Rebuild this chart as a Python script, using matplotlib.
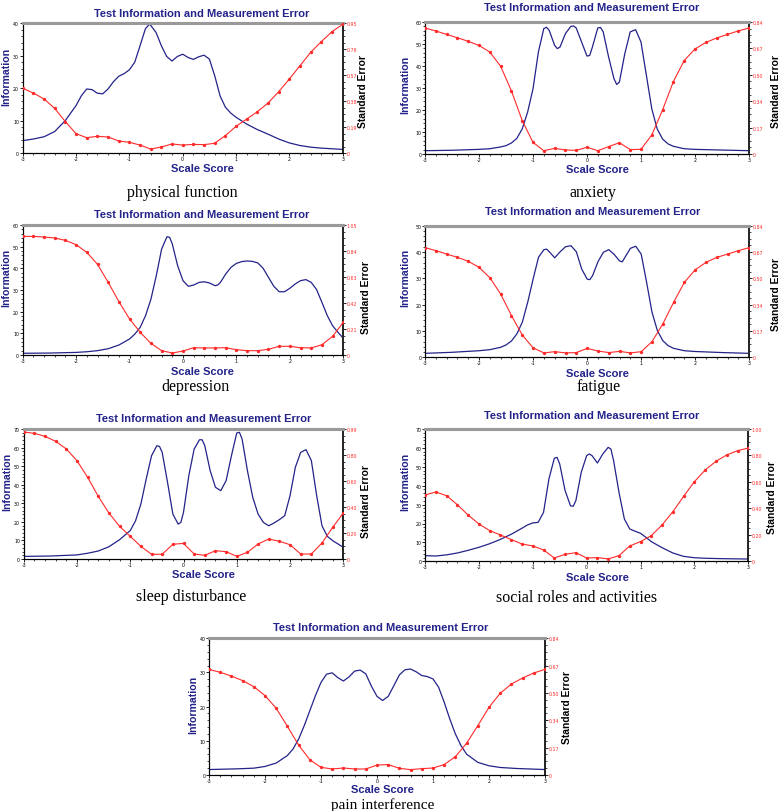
import matplotlib
matplotlib.use("Agg")
import matplotlib.pyplot as plt
from matplotlib.ticker import MultipleLocator, AutoMinorLocator

# ---------------- data ----------------
se_x = [-3.0, -2.8, -2.6, -2.4, -2.2, -2.0, -1.8, -1.6, -1.4, -1.2, -1.0, -0.8, -0.6, -0.4, -0.2,
        0.0, 0.2, 0.4, 0.6, 0.8, 1.0, 1.2, 1.4, 1.6, 1.8, 2.0, 2.2, 2.4, 2.6, 2.8, 3.0]

# physical function
pf_info_x = [-3, -2.8, -2.6, -2.4, -2.2, -2.0, -1.9, -1.8, -1.7, -1.6, -1.5, -1.4, -1.3, -1.2, -1.1, -1.0,
             -0.9, -0.8, -0.7, -0.62, -0.5, -0.4, -0.3, -0.2, -0.1, 0.0, 0.1, 0.2, 0.3, 0.4, 0.5, 0.6,
             0.7, 0.8, 0.9, 1.0, 1.2, 1.4, 1.6, 1.8, 2.0, 2.2, 2.4, 2.6, 2.8, 3.0]
pf_info = [3.8, 4.3, 5.0, 6.6, 10.0, 14.6, 17.6, 19.7, 19.5, 18.4, 18.2, 19.7, 21.9, 23.6, 24.4, 25.6,
           27.9, 33.0, 38.2, 39.7, 37.1, 33.0, 29.7, 28.3, 29.7, 30.4, 29.4, 28.8, 29.6, 30.1, 28.9, 23.8,
           17.6, 14.1, 12.3, 11.0, 8.9, 7.2, 5.8, 4.3, 3.1, 2.3, 1.8, 1.5, 1.3, 1.1]
pf_se = [0.473, 0.438, 0.395, 0.326, 0.229, 0.141, 0.112, 0.122, 0.117, 0.088, 0.078, 0.058, 0.029, 0.044,
         0.066, 0.058, 0.063, 0.061, 0.071, 0.127, 0.195, 0.248, 0.302, 0.365, 0.448, 0.541, 0.638, 0.736,
         0.814, 0.887, 0.940]

# anxiety
ax_info_x = [-3, -2.5, -2.0, -1.8, -1.6, -1.5, -1.4, -1.3, -1.2, -1.1, -1.0, -0.9, -0.8, -0.75, -0.7, -0.6,
             -0.55, -0.5, -0.4, -0.3, -0.25, -0.2, -0.1, 0.0, 0.05, 0.1, 0.2, 0.25, 0.3, 0.4, 0.5, 0.55,
             0.6, 0.7, 0.8, 0.9, 1.0, 1.1, 1.2, 1.3, 1.4, 1.5, 1.6, 1.8, 2.0, 2.5, 3.0]
ax_info = [1.5, 1.7, 2.1, 2.4, 3.2, 3.8, 5.0, 7.1, 11.4, 19.0, 29.6, 46.4, 57.0, 57.6, 56.2, 49.4,
           47.9, 48.6, 54.7, 58.0, 58.2, 57.3, 50.9, 44.5, 44.8, 48.6, 57.3, 57.5, 55.5, 44.1, 34.2, 31.6,
           32.7, 45.6, 55.5, 56.5, 50.9, 35.7, 20.5, 11.4, 6.8, 4.6, 3.5, 2.4, 2.1, 1.8, 1.5]
ax_se = [0.802, 0.783, 0.761, 0.740, 0.717, 0.691, 0.649, 0.559, 0.402, 0.213, 0.074, 0.021, 0.036, 0.026,
         0.023, 0.043, 0.021, 0.047, 0.072, 0.028, 0.030, 0.121, 0.281, 0.461, 0.595, 0.668, 0.710, 0.738,
         0.761, 0.783, 0.802]

# depression
dp_info_x = [-3, -2.5, -2.0, -1.8, -1.6, -1.4, -1.2, -1.0, -0.9, -0.8, -0.7, -0.6, -0.5, -0.4, -0.3, -0.25,
             -0.2, -0.1, 0.0, 0.1, 0.2, 0.3, 0.4, 0.5, 0.6, 0.65, 0.7, 0.8, 0.9, 1.0, 1.1, 1.2, 1.3, 1.4,
             1.5, 1.6, 1.7, 1.8, 1.9, 2.0, 2.1, 2.2, 2.3, 2.4, 2.5, 2.6, 2.7, 2.8, 2.9, 3.0]
dp_info = [0.8, 0.9, 1.2, 1.5, 2.0, 2.9, 4.6, 7.4, 9.7, 12.8, 18.2, 25.8, 36.6, 48.9, 54.6, 54.3,
           51.2, 41.2, 34.3, 31.7, 32.3, 33.5, 33.8, 33.2, 32.0, 32.3, 33.5, 37.4, 40.5, 42.3, 43.1, 43.4, 43.2, 42.5,
           40.0, 35.8, 31.7, 29.2, 29.2, 30.8, 32.8, 34.3, 34.8, 33.5, 30.2, 24.3, 18.2, 13.5, 10.5, 7.7]
dp_se = [0.958, 0.958, 0.953, 0.945, 0.926, 0.891, 0.829, 0.732, 0.587, 0.431, 0.291, 0.183, 0.094, 0.035,
         0.016, 0.032, 0.059, 0.057, 0.057, 0.059, 0.043, 0.035, 0.035, 0.046, 0.070, 0.070, 0.059, 0.057,
         0.083, 0.151, 0.264]

# fatigue
fa_info_x = [-3, -2.5, -2.0, -1.8, -1.6, -1.5, -1.4, -1.3, -1.2, -1.1, -1.0, -0.9, -0.8, -0.75, -0.7, -0.6,
             -0.5, -0.4, -0.3, -0.2, -0.1, 0.0, 0.05, 0.1, 0.2, 0.3, 0.4, 0.5, 0.6, 0.65, 0.7, 0.8, 0.9,
             1.0, 1.1, 1.2, 1.3, 1.4, 1.5, 1.6, 1.8, 2.0, 2.5, 3.0]
fa_info = [1.5, 1.9, 2.5, 2.9, 3.8, 4.7, 6.2, 8.9, 13.3, 20.9, 29.7, 38.0, 40.9, 41.1, 40.1, 37.8,
           40.1, 42.0, 42.4, 40.1, 33.5, 29.7, 29.5, 31.0, 36.3, 39.9, 40.9, 39.1, 36.6, 36.3, 38.0, 41.4, 42.2,
           39.2, 28.5, 17.1, 10.1, 6.3, 4.4, 3.4, 2.5, 2.2, 1.8, 1.5]
fa_se = [0.700, 0.681, 0.659, 0.638, 0.613, 0.574, 0.508, 0.404, 0.266, 0.142, 0.060, 0.028, 0.036, 0.028,
         0.030, 0.057, 0.040, 0.030, 0.038, 0.028, 0.036, 0.100, 0.213, 0.351, 0.479, 0.559, 0.606, 0.638,
         0.659, 0.681, 0.700]

# sleep disturbance
sd_info_x = [-3, -2.5, -2.0, -1.8, -1.6, -1.4, -1.2, -1.0, -0.9, -0.8, -0.7, -0.6, -0.5, -0.45, -0.4, -0.3,
             -0.2, -0.1, -0.05, 0.0, 0.1, 0.2, 0.3, 0.35, 0.4, 0.5, 0.6, 0.7, 0.8, 0.9, 1.0, 1.05, 1.1,
             1.2, 1.3, 1.4, 1.5, 1.6, 1.7, 1.8, 1.9, 2.0, 2.1, 2.2, 2.3, 2.4, 2.5, 2.6, 2.7, 2.8, 2.9, 3.0]
sd_info = [1.4, 1.6, 2.2, 3.1, 4.3, 6.6, 10.4, 15.3, 20.6, 29.6, 43.1, 55.6, 61.0, 60.6, 57.4, 41.3,
           24.2, 18.8, 19.7, 25.1, 44.9, 59.2, 64.2, 64.2, 61.0, 47.6, 38.6, 36.8, 42.2, 55.6, 67.9, 68.2, 64.6,
           47.6, 33.2, 24.2, 19.7, 17.9, 19.4, 21.2, 23.3, 34.1, 49.4, 57.4, 58.9, 53.0, 34.1, 17.9, 12.2, 9.9, 8.1, 6.3]
sd_se = [0.967, 0.957, 0.934, 0.896, 0.838, 0.749, 0.622, 0.477, 0.350, 0.249, 0.173, 0.096, 0.036, 0.036,
         0.112, 0.119, 0.038, 0.028, 0.063, 0.056, 0.020, 0.051, 0.114, 0.152, 0.135, 0.109, 0.038, 0.038,
         0.122, 0.241, 0.350]

# social roles and activities
sr_info_x = [-3, -2.8, -2.6, -2.4, -2.2, -2.0, -1.8, -1.6, -1.4, -1.2, -1.1, -1.0, -0.9, -0.8, -0.7, -0.6,
             -0.55, -0.5, -0.4, -0.3, -0.25, -0.2, -0.1, 0.0, 0.05, 0.1, 0.2, 0.3, 0.4, 0.45, 0.5, 0.6,
             0.7, 0.8, 0.9, 1.0, 1.1, 1.2, 1.4, 1.6, 1.8, 2.0, 2.2, 2.5, 3.0]
sr_info = [3.0, 2.8, 3.4, 4.4, 5.8, 7.4, 9.3, 11.6, 14.3, 17.5, 19.2, 20.3, 20.6, 25.9, 43.6, 54.5,
           55.0, 51.5, 37.4, 29.4, 29.1, 32.1, 47.1, 55.9, 56.8, 55.9, 52.0, 56.8, 60.3, 59.4, 53.3, 36.5,
           22.4, 17.1, 15.9, 14.8, 12.7, 10.4, 7.2, 4.4, 2.6, 1.9, 1.6, 1.4, 1.2]
sr_se = [0.501, 0.524, 0.496, 0.428, 0.350, 0.282, 0.232, 0.199, 0.164, 0.131, 0.116, 0.086, 0.025, 0.053,
         0.065, 0.025, 0.028, 0.018, 0.043, 0.116, 0.149, 0.194, 0.275, 0.375, 0.491, 0.602, 0.690, 0.756,
         0.804, 0.836, 0.856]

# pain interference
pi_info_x = [-3, -2.5, -2.2, -2.0, -1.8, -1.6, -1.5, -1.4, -1.3, -1.2, -1.1, -1.0, -0.9, -0.8, -0.7, -0.6,
             -0.5, -0.4, -0.3, -0.2, -0.1, 0.0, 0.1, 0.2, 0.3, 0.4, 0.5, 0.6, 0.7, 0.8, 0.9, 1.0, 1.1,
             1.2, 1.3, 1.4, 1.5, 1.6, 1.8, 2.0, 2.2, 2.5, 3.0]
pi_info = [1.6, 1.8, 2.0, 2.5, 3.5, 5.7, 7.6, 10.5, 14.4, 18.8, 23.2, 27.1, 29.5, 29.9, 28.5, 27.5,
           28.7, 30.4, 30.7, 29.6, 26.0, 23.0, 21.8, 23.0, 26.1, 29.3, 30.8, 31.0, 30.2, 29.1, 28.8, 28.1, 25.7,
           21.3, 16.4, 12.0, 8.6, 6.1, 3.7, 2.7, 2.2, 1.9, 1.6]
pi_se = [0.649, 0.631, 0.608, 0.580, 0.543, 0.488, 0.410, 0.299, 0.184, 0.094, 0.047, 0.037, 0.043, 0.037,
         0.037, 0.061, 0.064, 0.041, 0.033, 0.039, 0.043, 0.064, 0.113, 0.195, 0.303, 0.416, 0.502, 0.559,
         0.596, 0.627, 0.649]

captions = ["physical function", "anxiety", "depression", "fatigue",
            "sleep disturbance", "social roles and activities", "pain interference"]
info_max = [40, 60, 60, 50, 70, 70, 40]
se_max = [0.95, 0.84, 1.05, 0.84, 0.99, 1.00, 0.84]
se_ticklabels = [["0", "0.19", "0.38", "0.57", "0.76", "0.95"],
                 ["0", "0.17", "0.34", "0.50", "0.67", "0.84"],
                 ["0", "0.21", "0.42", "0.63", "0.84", "1.05"],
                 ["0", "0.17", "0.34", "0.50", "0.67", "0.84"],
                 ["0", "0.20", "0.40", "0.60", "0.80", "0.99"],
                 ["0", "0.20", "0.40", "0.60", "0.80", "1.00"],
                 ["0", "0.17", "0.34", "0.50", "0.67", "0.84"]]
x_ticks = [-3, -2, -1, 0, 1, 2, 3]

info_xs = [pf_info_x, ax_info_x, dp_info_x, fa_info_x, sd_info_x, sr_info_x, pi_info_x]
info_ys = [pf_info, ax_info, dp_info, fa_info, sd_info, sr_info, pi_info]
se_ys = [pf_se, ax_se, dp_se, fa_se, sd_se, sr_se, pi_se]

# ---------------- layout ----------------
W, H = 780, 812
fig = plt.figure(figsize=(W / 100, H / 100), dpi=100)

NAVY = "#23238a"
RED = "#ff2b2b"

# axes box in pixels: left, right, top, bottom
boxes = [(22.7, 342.7, 24, 154), (425, 749, 23, 155),
         (22.7, 343.3, 226, 356), (425, 749.3, 226.7, 358.3),
         (23.7, 343.3, 430, 560), (425, 748.3, 430, 562.3),
         (209, 545, 639.3, 776)]
title_pos = [(202, 14), (592, 8), (202, 215), (593, 212), (204, 419), (592, 416), (381, 628)]
# baseline positions of "Scale Score"
xlabel_pos = [(202, 172), (597, 173), (202, 375), (597, 377), (203, 578), (597, 581), (382, 793)]
ylabel_pos = [(6, 77), (405, 85), (6, 278), (405, 278), (7, 482), (405, 482), (193, 705)]
y2label_pos = [(363, 92), (776, 92), (366, 297), (776, 295), (366, 501), (772, 498), (567, 708)]
# baseline positions of captions
caption_pos = [(182, 197), (593, 197), (195, 391), (599, 391), (191, 601), (577, 602), (383, 809)]
caption_size = [11.5, 11.5, 11.5, 11.5, 11.5, 11.5, 11]


def fx(x):
    return x / W


def fy(y):
    return 1 - y / H


for i in range(7):
    L, R, T, B = boxes[i]
    ax = fig.add_axes([fx(L), fy(B), (R - L) / W, (B - T) / H])
    ax2 = ax.twinx()
    ax.plot(info_xs[i], info_ys[i], color=NAVY, lw=0.9, zorder=3)
    ax2.plot(se_x, se_ys[i], color=RED, lw=0.8, marker="o", ms=1.4, mec=RED, mfc=RED, zorder=3)
    ax.set_xlim(-3, 3)
    ax.set_ylim(0, info_max[i])
    ax2.set_ylim(0, se_max[i])
    ax.set_xticks(x_ticks)
    ax.set_xticklabels([str(v) for v in x_ticks])
    ax.xaxis.set_minor_locator(MultipleLocator(0.2))
    ax.yaxis.set_major_locator(MultipleLocator(10))
    ax.yaxis.set_minor_locator(MultipleLocator(2))
    ticks2 = [se_max[i] * k / 5 for k in range(6)]
    ax2.set_yticks(ticks2)
    ax2.set_yticklabels(se_ticklabels[i])
    ax2.yaxis.set_minor_locator(AutoMinorLocator(4))
    for a in (ax, ax2):
        a.tick_params(which="major", length=2.0, width=0.6, labelsize=3.4, pad=0.6)
        a.tick_params(which="minor", length=1.3, width=0.5)
    ax.tick_params(axis="x", pad=0.2)
    ax2.tick_params(axis="y", labelcolor=RED)
    for a in (ax, ax2):
        a.spines["top"].set_color("#9a9a9a")
        a.spines["top"].set_linewidth(2.2)
        a.spines["left"].set_linewidth(0.8)
        a.spines["bottom"].set_linewidth(0.8)
        a.spines["right"].set_linewidth(1.2)
        a.spines["right"].set_color("#222222")
    ax.set_facecolor("none")

    tx, ty = title_pos[i]
    fig.text(fx(tx), fy(ty), "Test Information and Measurement Error", ha="center", va="center",
             fontsize=8, fontweight="bold", color=NAVY, family="Liberation Sans")
    lx, ly = xlabel_pos[i]
    fig.text(fx(lx), fy(ly), "Scale Score", ha="center", va="baseline",
             fontsize=8.0, fontweight="bold", color=NAVY, family="Liberation Sans")
    yx, yy = ylabel_pos[i]
    fig.text(fx(yx), fy(yy), "Information", ha="center", va="center", rotation=90,
             fontsize=7.6, fontweight="bold", color=NAVY, family="Liberation Sans")
    sx, sy = y2label_pos[i]
    fig.text(fx(sx), fy(sy), "Standard Error", ha="center", va="center", rotation=90,
             fontsize=7.4, fontweight="bold", color="black", family="Liberation Sans")
    cx, cy = caption_pos[i]
    fig.text(fx(cx), fy(cy), captions[i], ha="center", va="baseline",
             fontsize=caption_size[i], color="black", family="Liberation Serif")

fig.savefig("out.png", dpi=100, facecolor="white")
